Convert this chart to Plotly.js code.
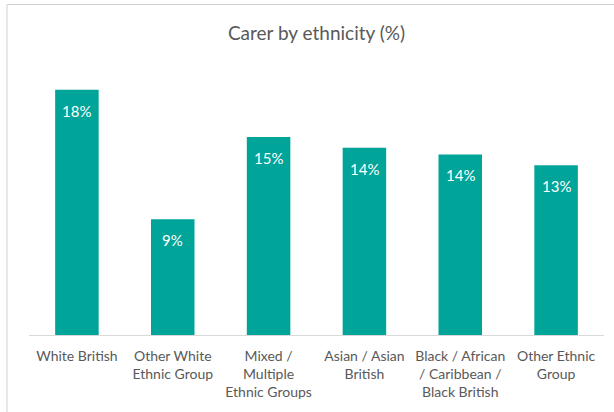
<!DOCTYPE html>
<html>
<head>
<meta charset="utf-8">
<script src="https://cdn.plot.ly/plotly-3.0.1.min.js"></script>
<style>html,body{margin:0;padding:0;background:#fff;}#chart{width:614px;height:412px;}</style>
</head>
<body>
<div id="chart"></div>
<script>
const categories = ["White British", "Other White Ethnic Group", "Mixed / Multiple Ethnic Groups", "Asian / Asian British", "Black / African / Caribbean / Black British", "Other Ethnic Group"];
const tickLabels = ["White British", "Other White<br>Ethnic Group", "Mixed /<br>Multiple<br>Ethnic Groups", "Asian / Asian<br>British", "Black / African<br>/ Caribbean /<br>Black British", "Other Ethnic<br>Group"];
const values = [18.2, 8.6, 14.7, 13.9, 13.4, 12.6];
const valueLabels = ["18%", "9%", "15%", "14%", "14%", "13%"];

const FONT = "Lato, 'Open Sans', sans-serif";
const GREY = "#595959";

const trace = {
  type: "bar",
  x: categories,
  y: values,
  marker: {color: "#00A499", line: {width: 0}},
  hoverinfo: "none"
};

const annotations = categories.map((c, i) => ({
  x: c, y: values[i], xref: "x", yref: "y",
  text: valueLabels[i], showarrow: false,
  yanchor: "middle", yshift: -21,
  font: {family: FONT, size: 15, color: "#ffffff"}
}));

const layout = {
  width: 614, height: 412,
  margin: {l: 29, r: 10, t: 79, b: 77},
  paper_bgcolor: "#ffffff", plot_bgcolor: "#ffffff",
  bargap: 0.546,
  showlegend: false,
  title: {
    text: "Carer by ethnicity (%)",
    font: {family: FONT, size: 19, color: GREY},
    xref: "paper", x: 0.5, xanchor: "center",
    yref: "container", y: 0.92, yanchor: "middle"
  },
  xaxis: {
    type: "category",
    tickmode: "array", tickvals: categories, ticktext: tickLabels,
    showline: true, linecolor: "#d9d9d9", linewidth: 1,
    ticks: "", showgrid: false, zeroline: false,
    ticklabelstandoff: 8,
    tickfont: {family: FONT, size: 14, color: GREY}
  },
  yaxis: {
    range: [0, 19], visible: false, showgrid: false, zeroline: false
  },
  annotations: annotations,
  shapes: [{
    type: "rect", xref: "paper", yref: "paper",
    x0: -0.0383, x1: 1.05, y0: -0.35, y1: 1.291,
    line: {color: "#d0d0d0", width: 1}, fillcolor: "rgba(0,0,0,0)", layer: "below"
  }]
};

Plotly.newPlot("chart", [trace], layout, {staticPlot: true, displayModeBar: false});
</script>
</body>
</html>
